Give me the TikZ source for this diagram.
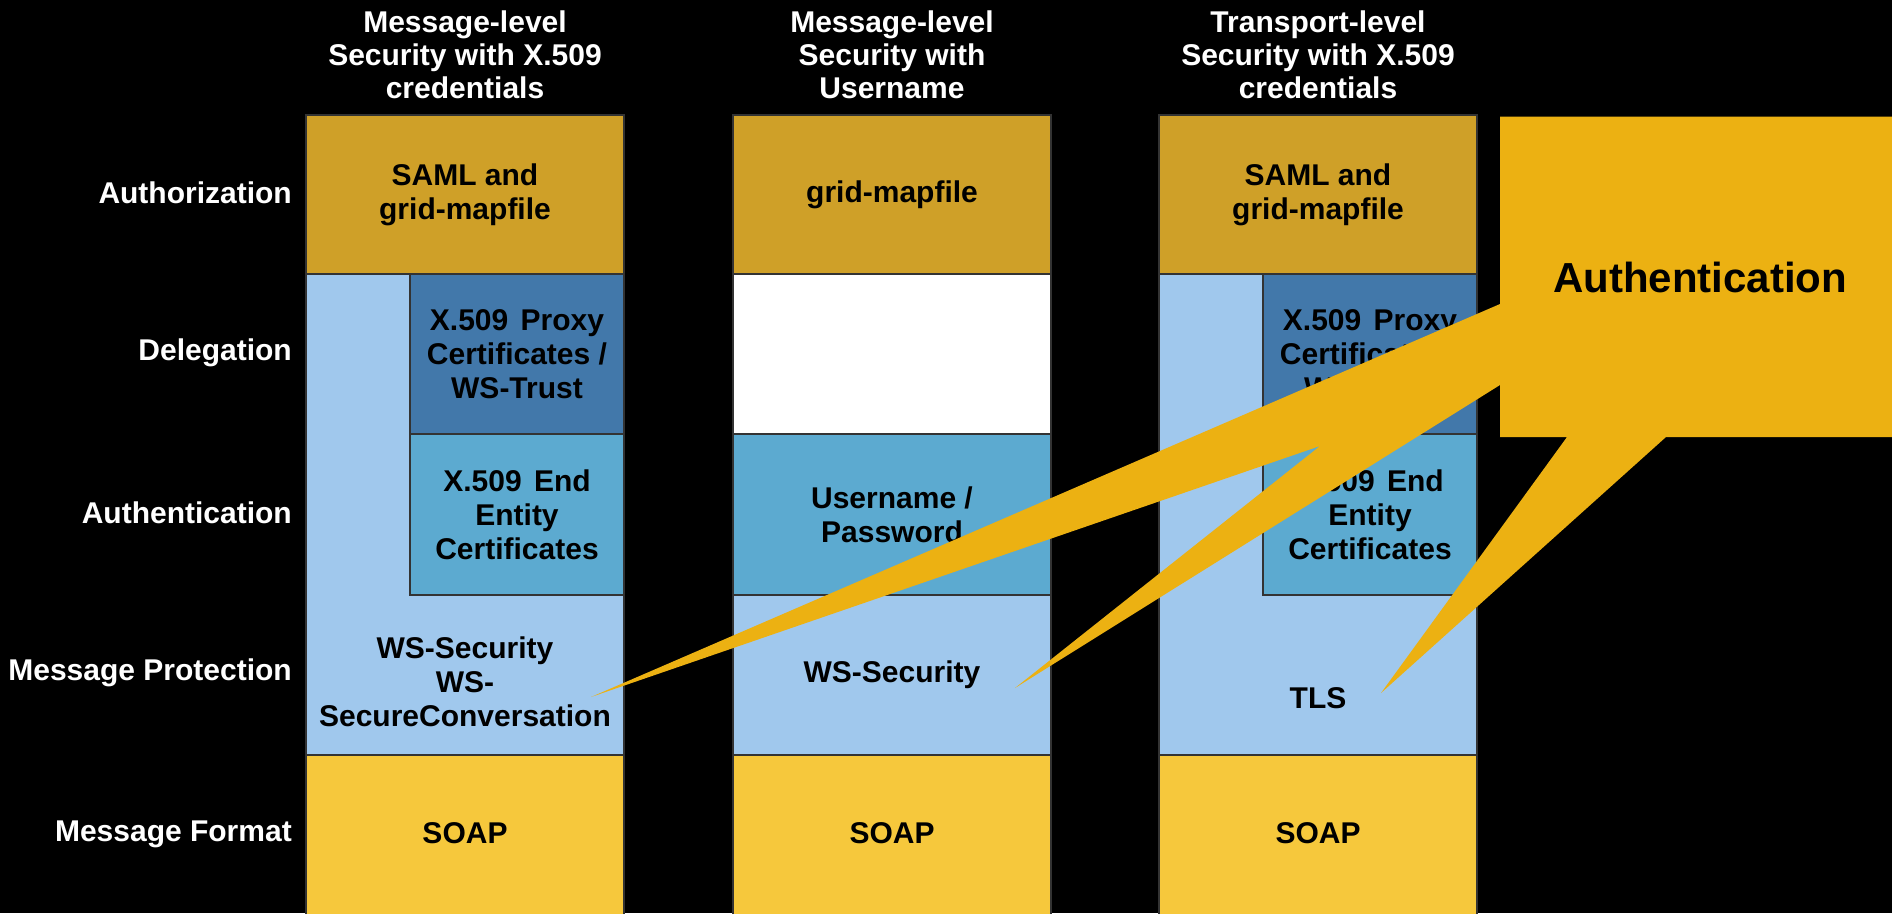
\documentclass[tikz,border=0pt]{standalone}
\usepackage{fontspec}
\setmainfont{Liberation Sans}
\definecolor{authgold}{HTML}{CFA028}
\definecolor{soapyel}{HTML}{F6C83C}
\definecolor{lblue}{HTML}{A0C8ED}
\definecolor{proxyblue}{HTML}{4278AA}
\definecolor{endblue}{HTML}{5CAAD0}
\definecolor{calloutyel}{HTML}{ECB112}
\definecolor{edgegray}{HTML}{333333}
\begin{document}
\begin{tikzpicture}[x=1pt,y=-1pt,
  txt/.style={font=\fontsize{30}{34}\selectfont\bfseries, align=center, inner sep=0pt, text=black},
  title/.style={txt, text=white, font=\fontsize{30}{33}\selectfont\bfseries},
  rowlabel/.style={txt, text=white, anchor=east},
  box/.style={txt, draw=edgegray, line width=1.2pt, outer sep=0pt},
  wide/.style={box, minimum width=318pt},
  narrow/.style={box, minimum width=214pt},
  callout/.style={fill=calloutyel}
]
\fill[black] (0,0) rectangle (1892,913);
\useasboundingbox (0,0) rectangle (1892,913);

% titles
\node[title] (t1) at (465,55) {Message-level\\Security with X.509\\credentials};
\node[title] (t2) at (892,55) {Message-level\\Security with\\Username};
\node[title] (t3) at (1318,55) {Transport-level\\Security with X.509\\credentials};

% row labels
\node[rowlabel] (lauth) at (292,193) {Authorization};
\node[rowlabel] (ldel) at (292,353) {Delegation};
\node[rowlabel] (lauthn) at (292,513) {Authentication};
\node[rowlabel] (lprot) at (292,673) {Message Protection};
\node[rowlabel] (lfmt) at (292,834) {Message Format};

% column 1
\node[wide, fill=authgold, minimum height=159pt] (c1auth) at (465,194.5) {SAML and\\grid-mapfile};
\node[wide, fill=lblue, minimum height=481pt] (c1prot) at (465,514.5) {};
\node[narrow, fill=proxyblue, minimum height=160pt] (c1proxy) at (517,354) {X.509\hspace{4pt} Proxy\\Certificates /\\WS-Trust};
\node[narrow, fill=endblue, minimum height=161pt] (c1end) at (517,514.5) {X.509\hspace{4pt} End\\Entity\\Certificates};
\node[txt] (c1ptext) at (465,682) {WS-Security\\WS-\\SecureConversation};
\node[wide, fill=soapyel, minimum height=162pt] (c1soap) at (465,836) {};
\node[txt] (c1soaptext) at (465,833) {SOAP};

% column 2
\node[wide, fill=authgold, minimum height=159pt] (c2auth) at (892,194.5) {grid-mapfile};
\node[wide, fill=white, minimum height=160pt] (c2del) at (892,354) {};
\node[wide, fill=endblue, minimum height=161pt] (c2end) at (892,514.5) {Username /\\Password};
\node[wide, fill=lblue, minimum height=160pt] (c2prot) at (892,675) {WS-Security};
\node[wide, fill=soapyel, minimum height=162pt] (c2soap) at (892,836) {};
\node[txt] (c2soaptext) at (892,833) {SOAP};

% column 3
\node[wide, fill=authgold, minimum height=159pt] (c3auth) at (1318,194.5) {SAML and\\grid-mapfile};
\node[wide, fill=lblue, minimum height=481pt] (c3prot) at (1318,514.5) {};
\node[narrow, fill=proxyblue, minimum height=160pt] (c3proxy) at (1370,354) {X.509\hspace{4pt} Proxy\\Certificates /\\WS-Trust};
\node[narrow, fill=endblue, minimum height=161pt] (c3end) at (1370,514.5) {X.509\hspace{4pt} End\\Entity\\Certificates};
\node[txt] (c3ptext) at (1318,698) {TLS};
\node[wide, fill=soapyel, minimum height=162pt] (c3soap) at (1318,836) {};
\node[txt] (c3soaptext) at (1318,833) {SOAP};

% callout
\fill[callout] (1500,116.5) -- (1900,116.5) -- (1900,437) -- (1666,437)
  -- (1381,693) -- (1567,437) -- (1500,437) -- (1500,385)
  -- (1015,688) -- (1320,446) -- (591,697) -- (1500,304) -- cycle;
\node[txt, font=\fontsize{42}{50}\selectfont\bfseries] (callouttext) at (1700,277) {Authentication};
\end{tikzpicture}
\end{document}
